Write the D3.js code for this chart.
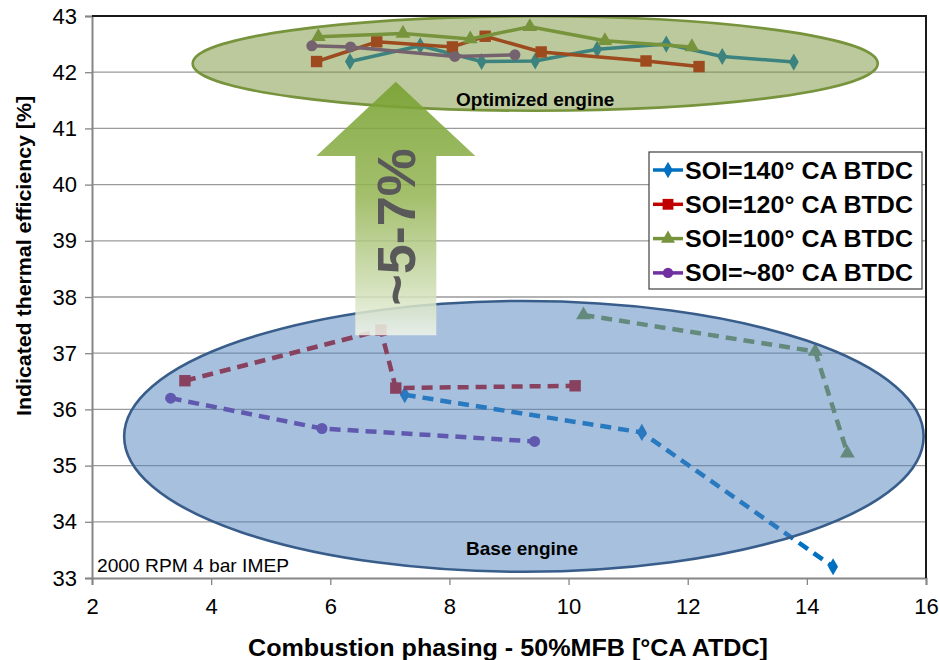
<!DOCTYPE html>
<html>
<head>
<meta charset="utf-8">
<script src="https://cdn.jsdelivr.net/npm/d3@7"></script>
<style>
    body { margin: 0; background: #fff; }
    text { font-family: "Liberation Sans", Arial, sans-serif; }
</style>
</head>
<body>
<svg class="chart" width="939" height="660"></svg>
<script>
(function () {

    'use strict';

    // series names (legend order)
    var seriesNames = ["SOI=140° CA BTDC", "SOI=120° CA BTDC", "SOI=100° CA BTDC", "SOI=~80° CA BTDC"];
    var seriesColors = ["#0070C0", "#C00000", "#77933C", "#7030A0"];
    var seriesMarkers = ["diamond", "square", "triangle", "circle"];

    // optimized engine (solid lines) - [CA50, ITE]
    var opt140 = [[6.33, 42.19], [7.51, 42.47], [8.54, 42.19], [9.44, 42.20], [10.48, 42.41], [11.64, 42.50], [12.58, 42.28], [13.78, 42.18]];
    var opt120 = [[5.77, 42.19], [6.78, 42.54], [8.05, 42.45], [8.60, 42.64], [9.54, 42.36], [11.30, 42.20], [12.19, 42.10]];
    var opt100 = [[5.80, 42.63], [7.22, 42.69], [8.35, 42.59], [9.35, 42.81], [10.61, 42.56], [12.07, 42.45]];
    var opt80 = [[5.69, 42.47], [6.34, 42.45], [8.09, 42.28], [9.10, 42.31]];

    // base engine (dashed lines)
    var base140 = [[7.25, 36.26], [11.23, 35.59], [14.44, 33.20]];
    var base120 = [[3.56, 36.51], [6.85, 37.41], [7.10, 36.38], [10.11, 36.42]];
    var base100 = [[10.25, 37.68], [14.14, 37.03], [14.68, 35.22]];
    var base80 = [[3.32, 36.20], [5.86, 35.66], [9.43, 35.43]];

    var xTicks = [2, 4, 6, 8, 10, 12, 14, 16];
    var yTicks = [33, 34, 35, 36, 37, 38, 39, 40, 41, 42, 43];

    var svg = d3.select("svg.chart");
    var left = 92, right = 926, top = 16, bottom = 578;

    var x = d3.scaleLinear().domain([2, 16]).range([left, right]);
    var y = d3.scaleLinear().domain([33, 43]).range([bottom, top]);

    // gridlines
    svg.append("g")
        .selectAll("line")
        .data(yTicks.slice(1, -1))
        .enter().append("line")
        .attr("x1", left).attr("x2", right)
        .attr("y1", function (d) { return y(d); })
        .attr("y2", function (d) { return y(d); })
        .attr("stroke", "#9a9a9a")
        .attr("stroke-width", 1.3);

    // axes
    var xAxis = svg.append("g")
        .attr("transform", "translate(0," + bottom + ")")
        .call(d3.axisBottom(x).tickValues(xTicks).tickSize(7).tickPadding(13));
    var yAxis = svg.append("g")
        .attr("transform", "translate(" + left + ",0)")
        .call(d3.axisLeft(y).tickValues(yTicks).tickSize(7).tickPadding(8));
    [xAxis, yAxis].forEach(function (a) {
        a.select(".domain").attr("stroke", "#868686").attr("stroke-width", 2);
        a.selectAll(".tick line").attr("stroke", "#868686").attr("stroke-width", 1.3);
        a.selectAll(".tick text")
            .attr("font-size", 22)
            .attr("fill", "#000")
            .style("font-family", "Liberation Sans, Arial, sans-serif");
    });

    var symbolType = {
        diamond: d3.symbolDiamond,
        square: d3.symbolSquare,
        triangle: d3.symbolTriangle,
        circle: d3.symbolCircle
    };
    var symbolSize = { diamond: 85, square: 130, triangle: 95, circle: 95 };

    var line = d3.line()
        .x(function (d) { return x(d[0]); })
        .y(function (d) { return y(d[1]); });

    function drawSeries(data, i, dashed) {
        var g = svg.append("g");
        g.append("path")
            .datum(data)
            .attr("d", line)
            .attr("fill", "none")
            .attr("stroke", seriesColors[i])
            .attr("stroke-width", dashed ? 4.5 : 3.5)
            .attr("stroke-dasharray", dashed ? "11,7" : null)
            .attr("stroke-linejoin", "round");
        g.selectAll("path.pt")
            .data(data)
            .enter().append("path")
            .attr("class", "pt")
            .attr("transform", function (d) { return "translate(" + x(d[0]) + "," + y(d[1]) + ")"; })
            .attr("d", d3.symbol().type(symbolType[seriesMarkers[i]]).size(symbolSize[seriesMarkers[i]]))
            .attr("fill", seriesColors[i]);
    }

    [opt140, opt120, opt100, opt80].forEach(function (s, i) { drawSeries(s, i, false); });
    [base140, base120, base100, base80].forEach(function (s, i) { drawSeries(s, i, true); });

    // ellipses around each group (centre, radii in data units)
    var optEllipse = { cx: 9.44, cy: 42.155, rx: 5.75, ry: 0.84 };
    var baseEllipse = { cx: 9.25, cy: 35.52, rx: 6.71, ry: 2.41 };

    function ellipse(e, fill, stroke) {
        svg.append("ellipse")
            .attr("cx", x(e.cx))
            .attr("cy", y(e.cy))
            .attr("rx", x(e.cx + e.rx) - x(e.cx))
            .attr("ry", y(e.cy - e.ry) - y(e.cy))
            .attr("fill", fill)
            .attr("fill-opacity", 0.5)
            .attr("stroke", stroke)
            .attr("stroke-width", 2.6);
    }
    ellipse(baseEllipse, "#4F81BD", "#385D8A");
    ellipse(optEllipse, "#77933C", "#77933C");

    svg.append("text")
        .attr("x", x(optEllipse.cx))
        .attr("y", 106)
        .attr("text-anchor", "middle")
        .attr("font-size", 19)
        .attr("font-weight", "bold")
        .text("Optimized engine");

    svg.append("text")
        .attr("x", 522)
        .attr("y", 555)
        .attr("text-anchor", "middle")
        .attr("font-size", 19)
        .attr("font-weight", "bold")
        .text("Base engine");

    // big arrow with gradient
    var defs = svg.append("defs");
    var grad = defs.append("linearGradient")
        .attr("id", "arrowGrad")
        .attr("x1", 0).attr("y1", 0).attr("x2", 0).attr("y2", 1);
    grad.append("stop").attr("offset", "0%").attr("stop-color", "#76A02E").attr("stop-opacity", 0.88);
    grad.append("stop").attr("offset", "45%").attr("stop-color", "#93B452").attr("stop-opacity", 0.85);
    grad.append("stop").attr("offset", "80%").attr("stop-color", "#CBDBAE").attr("stop-opacity", 0.85);
    grad.append("stop").attr("offset", "100%").attr("stop-color", "#F1F5EA").attr("stop-opacity", 0.85);

    var arrow = { x: 7.10, tip: 41.83, headBase: 40.51, bottom: 37.32, headHalf: 1.335, shaftHalf: 0.68 };
    var arrowPts = [
        [arrow.x, arrow.tip],
        [arrow.x + arrow.headHalf, arrow.headBase],
        [arrow.x + arrow.shaftHalf, arrow.headBase],
        [arrow.x + arrow.shaftHalf, arrow.bottom],
        [arrow.x - arrow.shaftHalf, arrow.bottom],
        [arrow.x - arrow.shaftHalf, arrow.headBase],
        [arrow.x - arrow.headHalf, arrow.headBase]
    ];
    svg.append("path")
        .attr("d", line(arrowPts) + "Z")
        .attr("fill", "url(#arrowGrad)");

    svg.append("text")
        .attr("transform", "translate(" + (x(arrow.x) + 19) + ",227) rotate(-90)")
        .attr("text-anchor", "middle")
        .attr("font-size", 54)
        .attr("font-weight", "bold")
        .attr("fill", "#595959")
        .text("~5-7%");

    svg.append("text")
        .attr("x", 97)
        .attr("y", 572)
        .attr("font-size", 19)
        .attr("textLength", 192)
        .attr("lengthAdjust", "spacingAndGlyphs")
        .text("2000 RPM 4 bar IMEP");

    // legend
    var legend = svg.append("g").attr("transform", "translate(649,152)");
    legend.append("rect")
        .attr("width", 273).attr("height", 137)
        .attr("fill", "#fff")
        .attr("stroke", "#404040")
        .attr("stroke-width", 1.2);
    var item = legend.selectAll("g.item")
        .data(seriesNames)
        .enter().append("g")
        .attr("class", "item")
        .attr("transform", function (d, i) { return "translate(0," + (18 + i * 34.3) + ")"; });
    item.append("line")
        .attr("x1", 4).attr("x2", 34)
        .attr("stroke", function (d, i) { return seriesColors[i]; })
        .attr("stroke-width", 3.5);
    item.append("path")
        .attr("transform", "translate(19,0)")
        .attr("d", function (d, i) { return d3.symbol().type(symbolType[seriesMarkers[i]]).size(symbolSize[seriesMarkers[i]] * 0.9)(); })
        .attr("fill", function (d, i) { return seriesColors[i]; });
    item.append("text")
        .attr("x", 36)
        .attr("y", 8.5)
        .attr("font-size", 24)
        .attr("font-weight", "bold")
        .attr("textLength", 228)
        .attr("lengthAdjust", "spacingAndGlyphs")
        .text(function (d) { return d; });

    // top and right frame of the plot area
    svg.append("path")
        .attr("d", "M" + left + "," + top + "H" + right + "V" + bottom)
        .attr("fill", "none")
        .attr("stroke", "#1a1a1a")
        .attr("stroke-width", 2);

    // axis titles
    svg.append("text")
        .attr("x", 508)
        .attr("y", 656)
        .attr("text-anchor", "middle")
        .attr("font-size", 24)
        .attr("font-weight", "bold")
        .attr("textLength", 520)
        .attr("lengthAdjust", "spacingAndGlyphs")
        .text("Combustion phasing - 50%MFB [°CA ATDC]");

    svg.append("text")
        .attr("transform", "translate(31,256) rotate(-90)")
        .attr("text-anchor", "middle")
        .attr("font-size", 20)
        .attr("font-weight", "bold")
        .attr("textLength", 320)
        .attr("lengthAdjust", "spacingAndGlyphs")
        .text("Indicated thermal efficiency [%]");

})();
</script>
</body>
</html>
